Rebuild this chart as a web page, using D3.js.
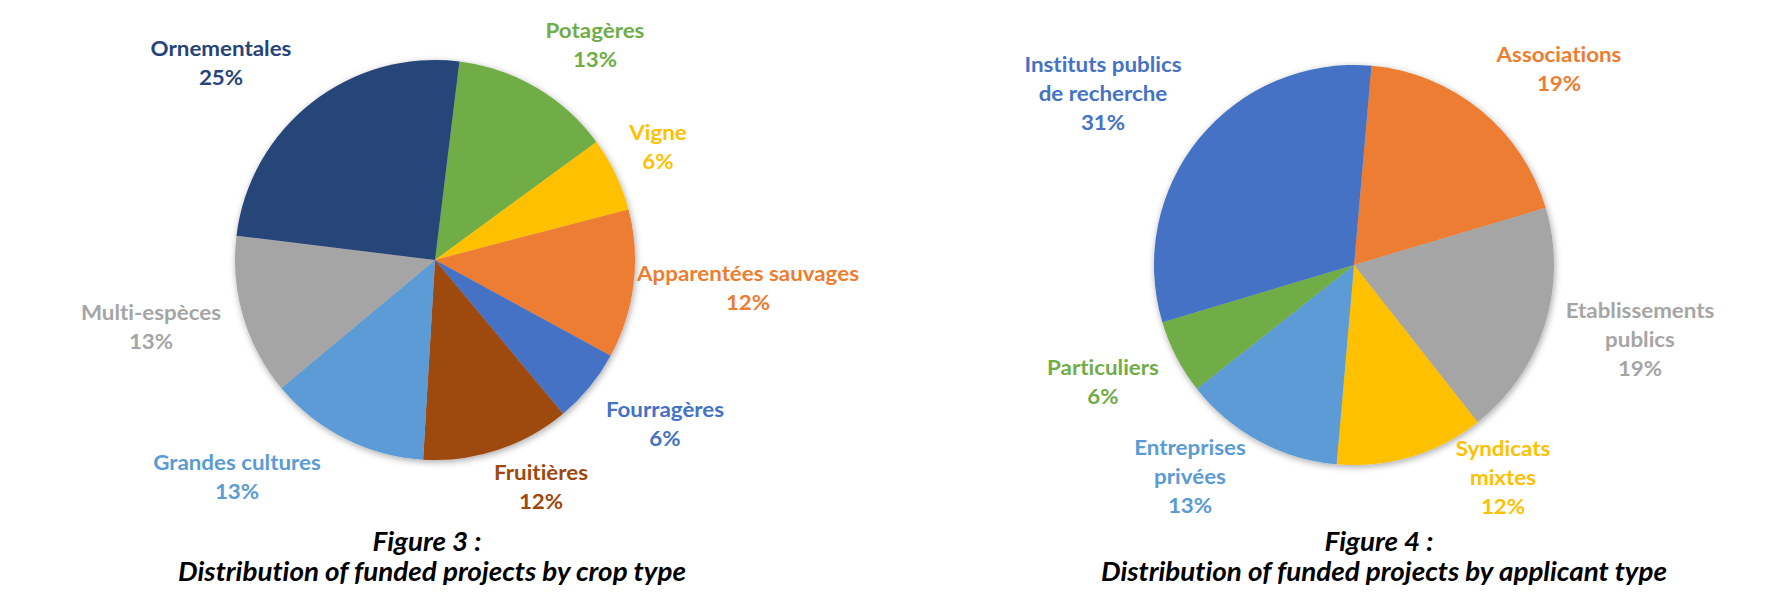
<!DOCTYPE html>
<html>
<head>
<meta charset="utf-8">
<script src="https://cdn.jsdelivr.net/npm/d3@7"></script>
<style>
  html, body { margin: 0; padding: 0; background: #ffffff; }
  svg { display: block; }
  svg text { font-variant-ligatures: none; font-feature-settings: "liga" 0, "clig" 0, "dlig" 0; }
</style>
</head>
<body>
<svg id="chart" width="1788" height="611"></svg>
<script>
// ---------- DATA ----------
// Figure 3 : crop type (clockwise from the top)
const cropCategories = ["Potagères", "Vigne", "Apparentées sauvages", "Fourragères", "Fruitières", "Grandes cultures", "Multi-espèces", "Ornementales"];
const cropPercent    = [13, 6, 12, 6, 12, 13, 13, 25];
const cropColors     = ["#70AD47", "#FFC000", "#ED7D31", "#4472C4", "#9E480E", "#5B9BD5", "#A5A5A5", "#264478"];

// Figure 4 : applicant type (clockwise from the top)
const applicantCategories = ["Associations", "Etablissements publics", "Syndicats mixtes", "Entreprises privées", "Particuliers", "Instituts publics de recherche"];
const applicantLines      = [["Associations"], ["Etablissements", "publics"], ["Syndicats", "mixtes"], ["Entreprises", "privées"], ["Particuliers"], ["Instituts publics", "de recherche"]];
const applicantPercent    = [19, 19, 12, 13, 6, 31];
const applicantColors     = ["#ED7D31", "#A5A5A5", "#FFC000", "#5B9BD5", "#70AD47", "#4472C4"];

const captions = [
  ["Figure 3 :", "Distribution of funded projects by crop type"],
  ["Figure 4 :", "Distribution of funded projects by applicant type"]
];

// ---------- LAYOUT ----------
const R = 200;
const LINE = 29;
const FONT = "Lato, 'Open Sans', 'DejaVu Sans', sans-serif";
const LABEL_SIZE = 21.5;
const CAPTION_SIZE = 26.5;

// label anchors relative to pie centre (centre x, first baseline)
const cropLabelOffsets = [[160, -222], [223, -120], [313, 21], [230, 157], [106, 220], [-198, 210], [-284, 60], [-214, -204]];
const applicantLabelOffsets = [[205, -203], [286, 53], [149, 191], [-164, 190], [-251, 110], [-251, -193]];

const svg = d3.select("#chart");

// shadow filter
const defs = svg.append("defs");
const f = defs.append("filter").attr("id", "pieShadow")
  .attr("x", "-20%").attr("y", "-20%").attr("width", "140%").attr("height", "140%");
f.append("feGaussianBlur").attr("in", "SourceAlpha").attr("stdDeviation", 3.5).attr("result", "blur");
f.append("feOffset").attr("in", "blur").attr("dx", 1).attr("dy", 1.5).attr("result", "off");
f.append("feComponentTransfer").attr("in", "off").attr("result", "soft")
  .append("feFuncA").attr("type", "linear").attr("slope", 0.35);
const merge = f.append("feMerge");
merge.append("feMergeNode").attr("in", "soft");
merge.append("feMergeNode").attr("in", "SourceGraphic");

// horizontal adjustment so that the substitute font matches the reference widths
function measure(text, style, size) {
  const t = svg.append("text").attr("font-family", FONT).attr("font-weight", 700)
    .attr("font-style", style).attr("font-size", size).text(text);
  const w = t.node().getComputedTextLength();
  t.remove();
  return w;
}
const clampSX = v => Math.max(0.85, Math.min(1.12, v));
const labelSX = clampSX(222 / measure("Apparentées sauvages", "normal", LABEL_SIZE));
const captionSX = clampSX(508 / measure("Distribution of funded projects by crop type", "italic", CAPTION_SIZE));

function drawPie(cx, cy, values, colors, lines, offsets, startDeg) {
  const s = startDeg * Math.PI / 180;
  const pie = d3.pie().sort(null).value(d => d).startAngle(s).endAngle(s + 2 * Math.PI);
  const arc = d3.arc().innerRadius(0).outerRadius(R);
  const g = svg.append("g").attr("transform", `translate(${cx},${cy})`);
  g.append("g").attr("filter", "url(#pieShadow)")
    .selectAll("path").data(pie(values)).join("path")
    .attr("d", arc).attr("fill", (d, i) => colors[i]);

  const lg = g.append("g");
  values.forEach((v, i) => {
    const x = offsets[i][0];
    const t = lg.append("g")
      .attr("transform", `translate(${x},0) scale(${labelSX},1)`)
      .append("text")
      .attr("x", 0).attr("y", offsets[i][1])
      .attr("text-anchor", "middle")
      .attr("font-family", FONT).attr("font-weight", 700)
      .attr("font-size", LABEL_SIZE).attr("fill", colors[i]);
    const all = lines[i].concat([v + "%"]);
    all.forEach((ln, k) => {
      t.append("tspan").attr("x", 0).attr("y", offsets[i][1] + k * LINE).text(ln);
    });
  });
}

drawPie(435, 260, cropPercent, cropColors, cropCategories.map(c => [c]), cropLabelOffsets, 7);
drawPie(1354, 265, applicantPercent, applicantColors, applicantLines, applicantLabelOffsets, 5);

// captions
const capX = [[427, 432], [1379, 1384]];
captions.forEach((cap, i) => {
  cap.forEach((ln, k) => {
    svg.append("g")
      .attr("transform", `translate(${capX[i][k]},0) scale(${captionSX},1)`)
      .append("text")
      .attr("x", 0).attr("y", 551 + k * 30)
      .attr("text-anchor", "middle")
      .attr("font-family", FONT).attr("font-weight", 700).attr("font-style", "italic")
      .attr("font-size", CAPTION_SIZE).attr("fill", "#000")
      .text(ln);
  });
});
</script>
</body>
</html>
